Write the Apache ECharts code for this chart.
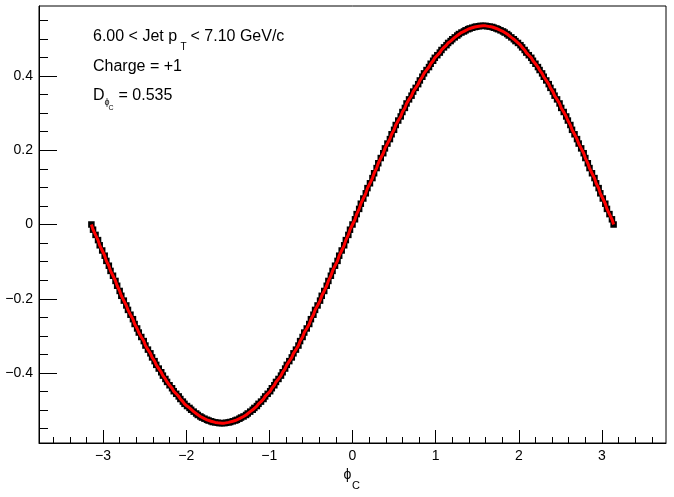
<!DOCTYPE html>
<html><head><meta charset="utf-8">
<script src="https://cdn.jsdelivr.net/npm/echarts@6/dist/echarts.min.js"></script>
<style>html,body{margin:0;padding:0;background:#fff}#c{width:674px;height:497px}</style>
</head><body><div id="c"></div><script>
// phi_C bin positions
const phi = [
-3.14,-3.12,-3.09,-3.06,-3.04,-3.01,-2.98,-2.96,-2.93,-2.91,
-2.88,-2.85,-2.83,-2.80,-2.78,-2.75,-2.72,-2.70,-2.67,-2.64,
-2.62,-2.59,-2.57,-2.54,-2.51,-2.49,-2.46,-2.43,-2.41,-2.38,
-2.36,-2.33,-2.30,-2.28,-2.25,-2.23,-2.20,-2.17,-2.15,-2.12,
-2.09,-2.07,-2.04,-2.02,-1.99,-1.96,-1.94,-1.91,-1.88,-1.86,
-1.83,-1.81,-1.78,-1.75,-1.73,-1.70,-1.68,-1.65,-1.62,-1.60,
-1.57,-1.54,-1.52,-1.49,-1.47,-1.44,-1.41,-1.39,-1.36,-1.34,
-1.31,-1.28,-1.26,-1.23,-1.20,-1.18,-1.15,-1.13,-1.10,-1.07,
-1.05,-1.02,-0.99,-0.97,-0.94,-0.92,-0.89,-0.86,-0.84,-0.81,
-0.79,-0.76,-0.73,-0.71,-0.68,-0.65,-0.63,-0.60,-0.58,-0.55,
-0.52,-0.50,-0.47,-0.45,-0.42,-0.39,-0.37,-0.34,-0.31,-0.29,
-0.26,-0.24,-0.21,-0.18,-0.16,-0.13,-0.10,-0.08,-0.05,-0.03,
0,
0.03,0.05,0.08,0.10,0.13,0.16,0.18,0.21,0.24,0.26,
0.29,0.31,0.34,0.37,0.39,0.42,0.45,0.47,0.50,0.52,
0.55,0.58,0.60,0.63,0.65,0.68,0.71,0.73,0.76,0.79,
0.81,0.84,0.86,0.89,0.92,0.94,0.97,0.99,1.02,1.05,
1.07,1.10,1.13,1.15,1.18,1.20,1.23,1.26,1.28,1.31,
1.34,1.36,1.39,1.41,1.44,1.47,1.49,1.52,1.54,1.57,
1.60,1.62,1.65,1.68,1.70,1.73,1.75,1.78,1.81,1.83,
1.86,1.88,1.91,1.94,1.96,1.99,2.02,2.04,2.07,2.09,
2.12,2.15,2.17,2.20,2.23,2.25,2.28,2.30,2.33,2.36,
2.38,2.41,2.43,2.46,2.49,2.51,2.54,2.57,2.59,2.62,
2.64,2.67,2.70,2.72,2.75,2.78,2.80,2.83,2.85,2.88,
2.91,2.93,2.96,2.98,3.01,3.04,3.06,3.09,3.12,3.14
];
// measured asymmetry in each bin (black squares)
const asym = [
0,-0.014,-0.028,-0.042,-0.056,-0.070,-0.084,-0.098,-0.111,-0.125,
-0.138,-0.152,-0.165,-0.179,-0.192,-0.205,-0.218,-0.230,-0.243,-0.255,
-0.268,-0.280,-0.291,-0.303,-0.314,-0.326,-0.337,-0.347,-0.358,-0.368,
-0.378,-0.388,-0.398,-0.407,-0.416,-0.424,-0.433,-0.441,-0.449,-0.456,
-0.463,-0.470,-0.477,-0.483,-0.489,-0.494,-0.499,-0.504,-0.509,-0.513,
-0.517,-0.520,-0.523,-0.526,-0.528,-0.530,-0.532,-0.533,-0.534,-0.535,
-0.535,
-0.535,-0.534,-0.533,-0.532,-0.530,-0.528,-0.526,-0.523,-0.520,-0.517,
-0.513,-0.509,-0.504,-0.499,-0.494,-0.489,-0.483,-0.477,-0.470,-0.463,
-0.456,-0.449,-0.441,-0.433,-0.424,-0.416,-0.407,-0.398,-0.388,-0.378,
-0.368,-0.358,-0.347,-0.337,-0.326,-0.314,-0.303,-0.291,-0.280,-0.268,
-0.255,-0.243,-0.230,-0.218,-0.205,-0.192,-0.179,-0.165,-0.152,-0.138,
-0.125,-0.111,-0.098,-0.084,-0.070,-0.056,-0.042,-0.028,-0.014,0,
0.014,0.028,0.042,0.056,0.070,0.084,0.098,0.111,0.125,0.138,
0.152,0.165,0.179,0.192,0.205,0.218,0.230,0.243,0.255,0.268,
0.280,0.291,0.303,0.314,0.326,0.337,0.347,0.358,0.368,0.378,
0.388,0.398,0.407,0.416,0.424,0.433,0.441,0.449,0.456,0.463,
0.470,0.477,0.483,0.489,0.494,0.499,0.504,0.509,0.513,0.517,
0.520,0.523,0.526,0.528,0.530,0.532,0.533,0.534,0.535,0.535,
0.535,0.534,0.533,0.532,0.530,0.528,0.526,0.523,0.520,0.517,
0.513,0.509,0.504,0.499,0.494,0.489,0.483,0.477,0.470,0.463,
0.456,0.449,0.441,0.433,0.424,0.416,0.407,0.398,0.388,0.378,
0.368,0.358,0.347,0.337,0.326,0.314,0.303,0.291,0.280,0.268,
0.255,0.243,0.230,0.218,0.205,0.192,0.179,0.165,0.152,0.138,
0.125,0.111,0.098,0.084,0.070,0.056,0.042,0.028,0.014,0
];
const xMajor = [-3,-2,-1,0,1,2,3];
const xMinor = [-3.6,-3.4,-3.2,-2.8,-2.6,-2.4,-2.2,-1.8,-1.6,-1.4,-1.2,-0.8,-0.6,-0.4,-0.2,0.2,0.4,0.6,0.8,1.2,1.4,1.6,1.8,2.2,2.4,2.6,2.8,3.2,3.4,3.6];
const yMajor = [-0.4,-0.2,0,0.2,0.4];
const yMinor = [-0.55,-0.5,-0.45,-0.35,-0.3,-0.25,-0.15,-0.1,-0.05,0.05,0.1,0.15,0.25,0.3,0.35,0.45,0.5,0.55];
const xRange = [-3.77, 3.77];
const yRange = [-0.5885, 0.5885];

const FONT = '"Liberation Sans", Arial, Helvetica, sans-serif';
const PHI = '\u03d5';
const minus = v => String(v).replace('-', '\u2212');
const pts = phi.map((x, i) => [x, asym[i]]);

function txt(x, y, s, size) {
  return {type:'text', x:x, y:y, silent:true, z:100,
    style:{text:s, fill:'#000', font: size + 'px ' + FONT, align:'left', verticalAlign:'middle'}};
}

const chart = echarts.init(document.getElementById('c'), null, {renderer:'canvas'});
chart.setOption({
  animation:false,
  backgroundColor:'#fff',
  grid:{left:39, right:8, top:6, bottom:54, show:true, borderColor:'#000', borderWidth:1, backgroundColor:'transparent'},
  xAxis:[
    {type:'value', min:xRange[0], max:xRange[1], position:'bottom',
     axisLine:{show:true, onZero:false, lineStyle:{color:'#000', width:1}},
     axisTick:{show:true, inside:true, length:13, customValues:xMajor, lineStyle:{color:'#000'}},
     axisLabel:{show:true, customValues:xMajor, formatter:minus, color:'#000', fontSize:14, fontFamily:FONT, margin:6},
     splitLine:{show:false}},
    {type:'value', min:xRange[0], max:xRange[1], position:'bottom',
     axisLine:{show:false, onZero:false},
     axisTick:{show:true, inside:true, length:6, customValues:xMinor, lineStyle:{color:'#000'}},
     axisLabel:{show:false}, splitLine:{show:false}}
  ],
  yAxis:[
    {type:'value', min:yRange[0], max:yRange[1], position:'left',
     axisLine:{show:true, onZero:false, lineStyle:{color:'#000', width:1}},
     axisTick:{show:true, inside:true, length:18, customValues:yMajor, lineStyle:{color:'#000'}},
     axisLabel:{show:true, customValues:yMajor, formatter:minus, color:'#000', fontSize:14, fontFamily:FONT, margin:6},
     splitLine:{show:false}},
    {type:'value', min:yRange[0], max:yRange[1], position:'left',
     axisLine:{show:false, onZero:false},
     axisTick:{show:true, inside:true, length:9, customValues:yMinor, lineStyle:{color:'#000'}},
     axisLabel:{show:false}, splitLine:{show:false}}
  ],
  series:[
    {type:'scatter', xAxisIndex:0, yAxisIndex:0, data:pts, symbol:'rect', symbolSize:6.5,
     itemStyle:{color:'#000', opacity:1}, silent:true, z:2},
    {type:'line', xAxisIndex:0, yAxisIndex:0, data:pts, showSymbol:false, symbol:'none',
     lineStyle:{color:'#ff0000', width:3}, silent:true, z:3}
  ],
  graphic:[
    txt(93, 37, '6.00 < Jet p', 16),
    txt(180.5, 47, 'T', 10),
    txt(190.5, 37, '< 7.10 GeV/c', 16),
    txt(93, 66.5, 'Charge = +1', 16),
    txt(93, 95.5, 'D', 16),
    txt(104.5, 103, PHI, 9),
    txt(108.5, 108.5, 'C', 7),
    txt(118.5, 95.5, '= 0.535', 16),
    txt(343.5, 475.5, PHI, 14),
    txt(352, 486, 'C', 11)
  ]
});
</script></body></html>
